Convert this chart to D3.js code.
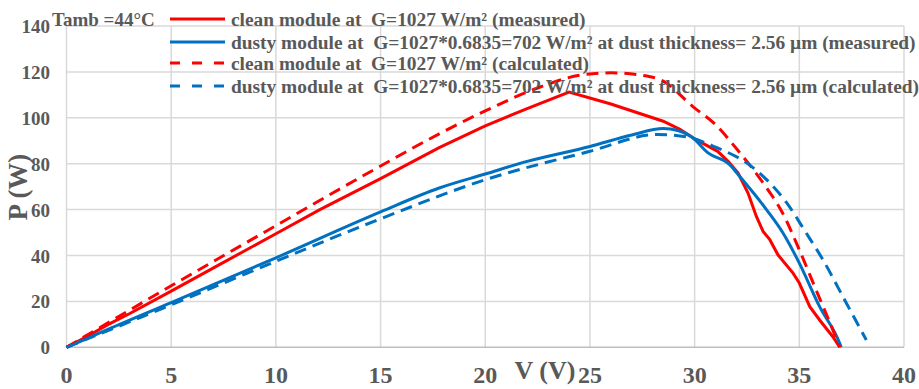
<!DOCTYPE html>
<html>
<head>
<meta charset="utf-8">
<script src="https://cdn.jsdelivr.net/npm/d3@7"></script>
<style>
  body { margin: 0; background: #fff; }
  svg { display: block; }
  text { font-family: "Liberation Serif", "Times New Roman", serif; font-weight: bold; fill: #595959; }
</style>
</head>
<body>
<svg id="chart" width="919" height="389"></svg>
<script>
// --- data (V in volts, P in watts) ---
const cleanMeasured = [
  [0, 0], [1, 4.8], [2, 10], [3, 14.6], [5, 24.5], [7.5, 37], [10, 49.5], [12.1, 60],
  [15, 73.5], [17.8, 87], [20, 96.5], [22, 104], [24, 111.2], [26, 106], [28.5, 98.5],
  [29.3, 95], [30, 90.8], [31.1, 85.4], [31.6, 81], [32.07, 76], [32.55, 67.2], [32.95, 57],
  [33.27, 50.5], [33.59, 46.9], [33.98, 40.3], [34.7, 32.3], [35, 28], [35.5, 17.7],
  [35.97, 11.9], [36.6, 4.6], [36.93, 0]
];
const dustyMeasured = [
  [0, 0], [1, 3.9], [2, 7.9], [5, 19.5], [10, 39], [15, 59], [17.8, 69.4], [20, 75.5],
  [22, 81], [25, 87.5], [27, 92.5], [28.5, 95.3], [29.2, 94.5], [29.85, 91.7], [30.64, 84.7],
  [31.67, 79.6], [32.15, 74.5], [33.43, 60], [34.22, 49.8], [35, 36.7], [35.97, 17.7],
  [36.93, 1.7], [37, 0]
];
const cleanCalculated = [
  [0, 0], [5, 26.8], [10, 53], [15, 79], [17.8, 93], [20, 103], [22.5, 113], [24.5, 118.5],
  [26, 119.6], [27.5, 118.5], [28.5, 116], [29.9, 105], [31, 97], [32.1, 85.4], [33.27, 71.6],
  [34.2, 58.5], [35, 42.5], [35.8, 25], [36.6, 7.6], [36.93, 0]
];
const dustyCalculated = [
  [0, 0], [5, 18.5], [10, 37.5], [15, 56], [20, 73], [25, 85.4], [28.2, 92.7], [29.6, 91.7],
  [30.9, 87.6], [32.8, 78.2], [34.4, 62.9], [35.33, 49.8], [36.13, 38.1], [37.25, 19.2],
  [38.2, 3.2]
];
const xTicks = [0, 5, 10, 15, 20, 25, 30, 35, 40];
const yTicks = [0, 20, 40, 60, 80, 100, 120, 140];
const legendLabels = [
  "clean module at  G=1027 W/m² (measured)",
  "dusty module at  G=1027*0.6835=702 W/m² at dust thickness= 2.56 µm (measured)",
  "clean module at  G=1027 W/m² (calculated)",
  "dusty module at  G=1027*0.6835=702 W/m² at dust thickness= 2.56 µm (calculated)"
];

const RED = "#ff0000";
const BLUE = "#0070c0";

const series = [
  { data: cleanMeasured, color: RED, dash: null, curve: d3.curveLinear },
  { data: dustyMeasured, color: BLUE, dash: null, curve: d3.curveMonotoneX },
  { data: cleanCalculated, color: RED, dash: "12,7", curve: d3.curveMonotoneX },
  { data: dustyCalculated, color: BLUE, dash: "12,7", curve: d3.curveMonotoneX }
];

// --- layout ---
const svg = d3.select("#chart");
const plot = { left: 66.5, right: 904, top: 26, bottom: 347.3 };

const x = d3.scaleLinear().domain([0, 40]).range([plot.left, plot.right]);
const y = d3.scaleLinear().domain([0, 140]).range([plot.bottom, plot.top]);

// gridlines
svg.append("g")
  .selectAll("line.vgrid")
  .data(xTicks)
  .enter()
  .append("line")
  .attr("x1", (d) => x(d)).attr("x2", (d) => x(d))
  .attr("y1", plot.top).attr("y2", plot.bottom)
  .attr("stroke", "#d9d9d9").attr("stroke-width", 1.5);

svg.append("g")
  .selectAll("line.hgrid")
  .data(yTicks)
  .enter()
  .append("line")
  .attr("x1", plot.left).attr("x2", plot.right)
  .attr("y1", (d) => y(d)).attr("y2", (d) => y(d))
  .attr("stroke", (d) => (d === 0 ? "#bfbfbf" : "#d9d9d9"))
  .attr("stroke-width", 1.5);

// tick labels
svg.append("g")
  .selectAll("text")
  .data(yTicks)
  .enter()
  .append("text")
  .attr("x", 50)
  .attr("y", (d) => y(d) + 7)
  .attr("text-anchor", "end")
  .style("font-size", "19px")
  .text((d) => d);

svg.append("g")
  .selectAll("text")
  .data(xTicks)
  .enter()
  .append("text")
  .attr("x", (d) => x(d))
  .attr("y", 383)
  .attr("text-anchor", "middle")
  .style("font-size", "24px")
  .text((d) => d);

// axis titles
svg.append("text")
  .attr("x", 545).attr("y", 379)
  .attr("text-anchor", "middle")
  .style("font-size", "26px")
  .text("V (V)");

svg.append("text")
  .attr("transform", "translate(27,187) rotate(-90)")
  .attr("text-anchor", "middle")
  .style("font-size", "27px")
  .text("P (W)");

// curves
const line = d3.line().x((d) => x(d[0])).y((d) => y(d[1]));

series.forEach((s) => {
  svg.append("path")
    .datum(s.data)
    .attr("fill", "none")
    .attr("stroke", s.color)
    .attr("stroke-width", 3)
    .attr("stroke-dasharray", s.dash)
    .attr("d", line.curve(s.curve));
});

// legend
svg.append("text")
  .attr("x", 52).attr("y", 26)
  .style("font-size", "19px")
  .text("Tamb =44°C");

const legendY = [19, 42, 63, 86];
const legend = svg.append("g")
  .selectAll("g")
  .data(series)
  .enter()
  .append("g")
  .attr("transform", (d, i) => `translate(0,${legendY[i]})`);

legend.append("line")
  .attr("x1", 170).attr("x2", 225)
  .attr("y1", 0).attr("y2", 0)
  .attr("stroke", (d) => d.color)
  .attr("stroke-width", 3)
  .attr("stroke-dasharray", (d) => (d.dash ? "10,12" : null));

legend.append("text")
  .attr("x", 231).attr("y", 7)
  .attr("xml:space", "preserve")
  .style("white-space", "pre")
  .style("font-size", "19.4px")
  .text((d, i) => legendLabels[i]);
</script>
</body>
</html>
